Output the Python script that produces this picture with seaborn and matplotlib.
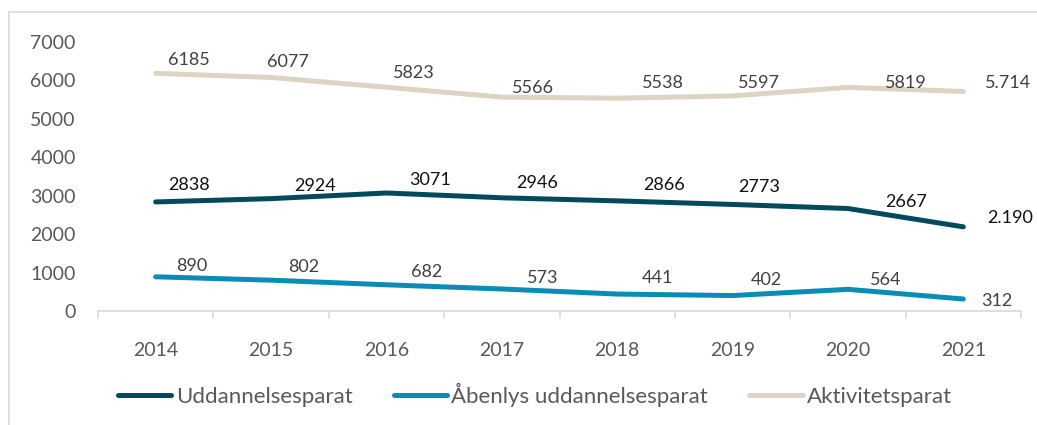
import matplotlib
matplotlib.use("Agg")
import matplotlib.pyplot as plt
import seaborn as sns
import pandas as pd
from matplotlib.lines import Line2D

years = ["2014", "2015", "2016", "2017", "2018", "2019", "2020", "2021"]
uddannelsesparat = [2838, 2924, 3071, 2946, 2866, 2773, 2667, 2190]
aabenlys = [890, 802, 682, 573, 441, 402, 564, 312]
aktivitetsparat = [6185, 6077, 5823, 5566, 5538, 5597, 5819, 5714]
label_udd = ["2838", "2924", "3071", "2946", "2866", "2773", "2667", "2.190"]
label_aab = ["890", "802", "682", "573", "441", "402", "564", "312"]
label_akt = ["6185", "6077", "5823", "5566", "5538", "5597", "5819", "5.714"]
series_names = ["Uddannelsesparat", "Åbenlys uddannelsesparat", "Aktivitetsparat"]
yticks = [0, 1000, 2000, 3000, 4000, 5000, 6000, 7000]

colors = {"Uddannelsesparat": "#004a5c",
          "Åbenlys uddannelsesparat": "#0a8cb4",
          "Aktivitetsparat": "#ddd5c3"}

sns.set_theme(style="white")
plt.rcParams["font.family"] = ["Lato", "DejaVu Sans"]

df = pd.DataFrame({
    "year": years * 3,
    "x": list(range(len(years))) * 3,
    "value": uddannelsesparat + aabenlys + aktivitetsparat,
    "series": [series_names[0]] * 8 + [series_names[1]] * 8 + [series_names[2]] * 8,
})

fig = plt.figure(figsize=(10.37, 4.25), dpi=100)
ax = fig.add_axes([98 / 1037, 1 - 311 / 425, (1021 - 98) / 1037, (311 - 42) / 425])

sns.lineplot(data=df, x="x", y="value", hue="series", palette=colors,
             hue_order=series_names, linewidth=3.6, ax=ax, legend=False,
             solid_capstyle="round", solid_joinstyle="round", sort=False)

ax.set_xlim(-0.5, 7.5)
ax.set_ylim(0, 7000)
ax.set_yticks(yticks)
ax.set_yticklabels([str(v) for v in yticks])
ax.set_xticks(range(len(years)))
ax.set_xticklabels(years)
ax.set_xlabel("")
ax.set_ylabel("")
for s in ["top", "right", "left"]:
    ax.spines[s].set_visible(False)
ax.spines["bottom"].set_color("#d9d9d9")
ax.spines["bottom"].set_linewidth(1.2)
# category boundary ticks
for b in [i - 0.5 for i in range(len(years) + 1)]:
    ax.plot([b, b], [0, -180], color="#d9d9d9", lw=1.2, clip_on=False)
ax.tick_params(axis="x", length=0, pad=22, labelsize=14, labelcolor="#595959")
ax.tick_params(axis="y", length=0, pad=16, labelsize=14, labelcolor="#595959")
for lab in ax.get_yticklabels():
    lab.set_horizontalalignment("right")

# label offsets in pixels (dx, dy up)
off_akt = [(33, 13), (17, 15), (27, 14), (31, 9), (46, 15), (26, 13), (58, 4), (45, 8)]
off_udd = [(33, 17), (44, 13), (44, 13), (35, 15), (47, 16), (27, 17), (58, 7), (47, 9)]
off_aab = [(36, 11), (33, 13), (40, 13), (41, 11), (40, 16), (34, 16), (38, 9), (33, -2)]

def annotate(vals, labels, offs, color):
    for i, (v, t, o) in enumerate(zip(vals, labels, offs)):
        ax.annotate(t, (i, v), xytext=(o[0] * 0.72, o[1] * 0.72), textcoords="offset points",
                    ha="center", va="center", fontsize=13, color=color)

annotate(aktivitetsparat, label_akt, off_akt, "#404040")
annotate(uddannelsesparat, label_udd, off_udd, "#111111")
annotate(aabenlys, label_aab, off_aab, "#404040")

handles = [Line2D([0], [0], color=colors[n], lw=3.6, solid_capstyle="round") for n in series_names]
leg = fig.legend(handles, series_names, loc="center left", bbox_to_anchor=(118 / 1037, 1 - 395 / 425),
                 ncol=3, frameon=False, fontsize=16, handlelength=2.4, handletextpad=0.2,
                 columnspacing=1.85, labelcolor="#595959", borderpad=0, borderaxespad=0)

# light border around chart area
fig.add_artist(Line2D([9 / 1037, 9 / 1037], [0, 1 - 12 / 425], color="#d9d9d9", lw=1.2))
fig.add_artist(Line2D([9 / 1037, 1], [1 - 12 / 425, 1 - 12 / 425], color="#d9d9d9", lw=1.2))

fig.savefig("out.png", dpi=100)
